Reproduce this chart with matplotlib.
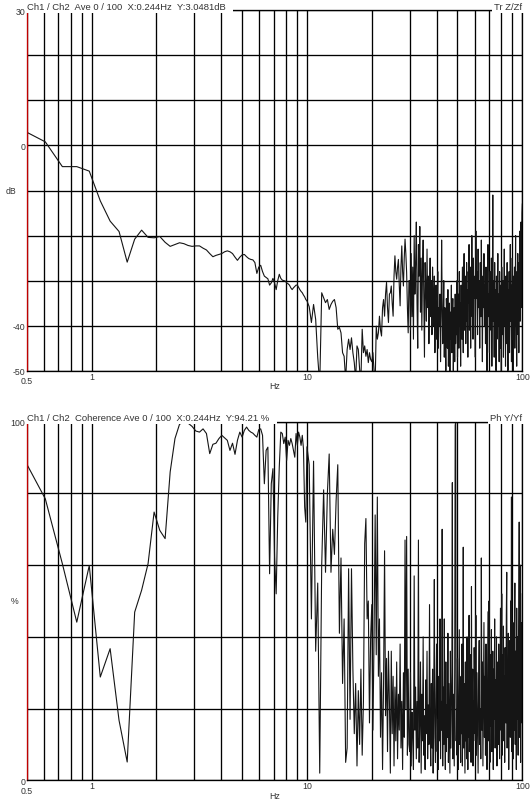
import numpy as np
import matplotlib
matplotlib.use('Agg')
import matplotlib.pyplot as plt
from matplotlib.ticker import LogLocator, NullFormatter

plt.rcParams['font.family'] = ['Liberation Sans', 'DejaVu Sans']

# analyser frequency bins (0.122 Hz resolution), thinned out at high frequency
DF = 0.122
freq_lo = DF * np.arange(4, 82)          # every bin, 0.5-10 Hz
freq_mid = DF * np.arange(82, 245, 2)    # every 2nd bin, 10-30 Hz
freq_hi1 = DF * np.arange(246, 491, 2)   # every 2nd bin, 30-60 Hz
freq_hi2 = DF * np.arange(493, 821, 3)   # every 3rd bin, 60-100 Hz

# transfer function Z/Zf (dB)
tf_lo = [3.2, 0.8, -4.7, -4.7, -5.7, -12.3, -16.8, -19.1, -25.9, -20.8,
         -18.8, -20.4, -20.5, -20.2, -21.5, -22.4, -22.0, -21.6, -21.8, -22.2,
         -22.4, -22.3, -22.3, -22.8, -23.2, -24.0, -24.7, -24.4, -24.2, -24.0,
         -23.6, -23.4, -23.6, -24.0, -24.8, -25.5, -24.8, -24.3, -24.2, -24.7,
         -25.1, -25.3, -25.4, -26.0, -28.4, -27.0, -26.6, -28.0, -29.0, -29.3,
         -29.6, -31.0, -30.5, -29.5, -30.5, -32.0, -30.0, -28.6, -29.5, -29.9,
         -30.0, -30.1, -30.5, -30.7, -31.0, -31.6, -32.0, -31.6, -31.3, -31.0,
         -31.0, -31.5, -32.0, -32.4, -32.7, -33.2, -33.6, -34.2]
tf_mid = [-34.5, -35.8, -39.3, -35.3, -38.6, -47.0, -53.0, -32.7, -33.8, -34.9,
          -34.2, -36.4, -35.3, -34.6, -34.2, -36.0, -40.8, -40.4, -41.6, -46.0,
          -46.8, -52.0, -45.3, -43.0, -45.3, -42.7, -46.0, -48.2, -52.0, -44.5,
          -45.3, -49.7, -52.0, -40.8, -46.0, -44.5, -46.8, -45.3, -48.2, -46.0,
          -47.5, -48.0, -46.0, -50.0, -53.0, -40.1, -43.0, -41.6, -37.9, -41.0,
          -42.3, -36.0, -34.2, -37.9, -33.0, -30.4, -36.0, -39.3, -33.0, -32.7,
          -31.2, -35.0, -37.9, -29.0, -24.5, -28.0, -29.7, -27.0, -25.3, -31.0,
          -35.6, -27.0, -22.3, -28.0, -31.2, -25.0, -20.8, -24.0, -28.2, -36.0,
          -41.6, -30.0]
tf_hi1 = [-30, -41, -24, -38, -27, -43, -20, -33, -26, -17,
          -35, -45, -22, -29, -18, -37, -25, -41, -28, -21,
          -34, -47, -26, -31, -39, -23, -36, -29, -44, -33,
          -25, -38, -30, -42, -27, -35, -40, -29, -46, -34,
          -31, -43, -37, -28, -45, -36, -40, -33, -48, -38,
          -21, -35, -44, -39, -30, -47, -36, -42, -50, -34,
          -38, -45, -32, -49, -40, -35, -52, -37, -43, -31,
          -46, -39, -34, -50, -41, -36, -48, -33, -44, -38,
          -42, -30, -47, -37, -33, -45, -28, -40, -35, -49,
          -31, -38, -43, -27, -36, -46, -32, -24, -41, -34,
          -29, -44, -37, -26, -39, -32, -47, -28, -35, -22,
          -41, -33, -27, -45, -30, -36, -20, -38, -31, -43,
          -25, -34, -29]
tf_hi2 = [-31, -47, -19, -34, -28, -42, -23, -36,
          -30, -45, -26, -38, -21, -33, -48, -29, -36, -24,
          -40, -31, -44, -27, -35, -50, -30, -22, -38, -33,
          -46, -28, -36, -41, -25, -49, -34, -11, -39, -30,
          -47, -26, -37, -32, -50, -29, -43, -35, -24, -40,
          -33, -48, -28, -38, -45, -31, -52, -27, -36, -42,
          -30, -47, -35, -23, -40, -33, -49, -29, -38, -44,
          -26, -37, -50, -32, -41, -28, -46, -35, -22, -39,
          -31, -48, -36, -25, -43, -33, -51, -29, -38, -27,
          -45, -32, -20, -40, -35, -49, -28, -37, -24, -42,
          -30, -46, -26, -34, -19, -39, -29, -17, -36, -23,
          -15, -13]

# coherence (%)
coh_lo = [89.4, 78.5, 60.4, 44.1, 59.9, 28.8, 36.7, 16.7, 5.1, 46.9,
          53.0, 60.4, 74.8, 69.7, 67.4, 86.0, 95.3, 99.3, 99.9, 99.6,
          98.7, 97.4, 97.1, 98.0, 96.7, 91.1, 93.7, 94.0, 95.3, 96.2,
          95.5, 94.8, 92.0, 94.0, 90.9, 94.8, 97.1, 95.7, 97.6, 98.5,
          97.6, 97.1, 96.8, 96.2, 95.7, 97.8, 98.0, 96.2, 82.7, 92.0,
          92.9, 57.6, 82.7, 86.9, 62.3, 52.0, 73.4, 87.4, 97.1, 96.7,
          93.9, 95.7, 89.2, 94.8, 93.4, 95.3, 93.9, 92.0, 90.1, 96.7,
          93.4, 97.1, 95.7, 93.4, 96.2, 92.5, 76.2, 72.0]
coh_mid = [93, 88, 45, 89, 36, 55, 2, 60, 81, 58,
           80, 91, 58, 70, 63, 78, 88, 41, 62, 27,
           45, 5, 9, 59, 17, 59, 31, 13, 27, 4,
           25, 10, 31, 7, 22, 66, 73, 45, 50, 16,
           40, 49, 14, 40, 74, 35, 79, 29, 45, 12,
           30, 3, 27, 64, 18, 34, 8, 36, 22, 2,
           36, 13, 29, 4, 26, 11, 33, 6, 24, 14,
           38, 9, 22, 3, 30, 12, 67, 20, 68, 7,
           31, 10]
coh_hi1 = [8, 30, 4, 19, 12, 3, 57, 14, 26, 6,
           22, 9, 67, 5, 16, 33, 2, 24, 11, 40,
           7, 18, 3, 28, 13, 36, 6, 21, 10, 49,
           15, 4, 27, 9, 31, 2, 20, 56, 12, 5,
           24, 38, 8, 17, 3, 29, 11, 45, 6, 22,
           14, 70, 4, 26, 10, 45, 18, 3, 33, 8,
           21, 12, 41, 5, 27, 15, 2, 36, 9, 19,
           30, 83, 6, 24, 13, 4, 31, 99, 100, 11,
           20, 7, 34, 16, 3, 25, 42, 10, 18, 5,
           29, 13, 38, 4, 21, 65, 9, 27, 15, 2,
           33, 11, 23, 6, 40, 17, 3, 28, 12, 46,
           8, 24, 15, 35, 5, 54, 19, 10, 31, 4,
           22, 13, 37]
coh_hi2 = [22, 11, 46, 7, 30, 16, 2, 26,
           39, 10, 20, 6, 62, 14, 33, 4, 24, 44,
           12, 29, 7, 38, 18, 3, 27, 47, 11, 50,
           21, 5, 35, 15, 42, 8, 25, 36, 3, 31,
           17, 45, 9, 28, 13, 40, 4, 22, 33, 10,
           38, 19, 6, 30, 48, 14, 26, 52, 7, 35,
           20, 43, 11, 29, 5, 37, 24, 16, 46, 58,
           9, 32, 21, 41, 3, 27, 15, 39, 12, 50,
           24, 79, 8, 34, 18, 44, 6, 30, 14, 42,
           55, 10, 36, 22, 3, 48, 17, 40, 26, 7,
           33, 46, 72, 12, 28, 60, 5, 38, 21, 44,
           16, 52]

# axis ticks and labels
x_ticks = [1, 10, 100]
x_labels = ['1', '10', '100']
tf_ticks = [-50, -40, -30, -20, -10, 0, 10, 20, 30]
tf_labels = ['-50', '-40', '', '', '', '0', '', '', '30']
coh_ticks = [0, 20, 40, 60, 80, 100]
coh_labels = ['0', '', '', '', '', '100']

TEXT = '#333333'
W, H = 532, 803


def add_panel(fig, top, bottom, left=26.7, right=522.3):
    """Add axes from pixel edges."""
    return fig.add_axes([left / W, 1 - bottom / H,
                         (right - left) / W, (bottom - top) / H])


def style_panel(ax, yticks, ylabels, unit, title, corner, unit_dx):
    """Analyser-style grid, labels and header."""
    ax.set_xscale('log')
    ax.set_xlim(0.5, 100)
    ax.set_ylim(yticks[0], yticks[-1])
    ax.set_yticks(yticks, ylabels)
    ax.set_xticks(x_ticks, x_labels)
    ax.xaxis.set_minor_locator(LogLocator(base=10, subs=np.arange(2, 10),
                                          numticks=20))
    ax.xaxis.set_minor_formatter(NullFormatter())
    ax.grid(which='both', color='black', lw=0.95)
    ax.tick_params(which='both', length=0, labelsize=6.3,
                   labelcolor=TEXT, pad=1.2)
    ax.tick_params(axis='x', pad=0.8)
    for spine in ax.spines.values():
        spine.set_linewidth(0.95)
    ax.spines['left'].set_color('#c00000')

    # extra labels
    kw = dict(xycoords='axes fraction', textcoords='offset points',
              fontsize=6.3, color=TEXT, ha='center', va='center')
    ax.annotate('0.5', xy=(0, 0), xytext=(0, -7.4), **kw)
    ax.annotate('Hz', xy=(0.5, 0), xytext=(0, -11), **kw)
    ax.annotate(unit, xy=(0, 0.5), xytext=(unit_dx, 0), **kw)

    # header texts masking the top frame
    box = dict(fc='white', ec='none', pad=1.2)
    ax.annotate(title, xy=(0, 1), xytext=(0.5, 1), xycoords='axes fraction',
                textcoords='offset points', fontsize=6.8, color=TEXT,
                ha='left', va='baseline', bbox=box)
    ax.annotate(corner, xy=(1, 1), xytext=(0, 1), xycoords='axes fraction',
                textcoords='offset points', fontsize=6.8, color=TEXT,
                ha='right', va='baseline', bbox=box)


freq = np.concatenate([freq_lo, freq_mid, freq_hi1, freq_hi2])
tf = np.concatenate([tf_lo, tf_mid, tf_hi1, tf_hi2])
coh = np.concatenate([coh_lo, coh_mid, coh_hi1, coh_hi2])

fig = plt.figure(figsize=(5.32, 8.03), dpi=100)

ax1 = add_panel(fig, 11.3, 371.7)
ax1.plot(freq, tf, color='#151515', lw=0.8)
style_panel(ax1, tf_ticks, tf_labels, 'dB',
            'Ch1 / Ch2  Ave 0 / 100  X:0.244Hz  Y:3.0481dB  ', 'Tr Z/Zf', -11)

ax2 = add_panel(fig, 422.7, 781.3)
ax2.plot(freq, coh, color='#151515', lw=0.8)
style_panel(ax2, coh_ticks, coh_labels, '%',
            'Ch1 / Ch2  Coherence Ave 0 / 100  X:0.244Hz  Y:94.21 %  ',
            'Ph Y/Yf', -9)

fig.savefig('out.png', dpi=100)
